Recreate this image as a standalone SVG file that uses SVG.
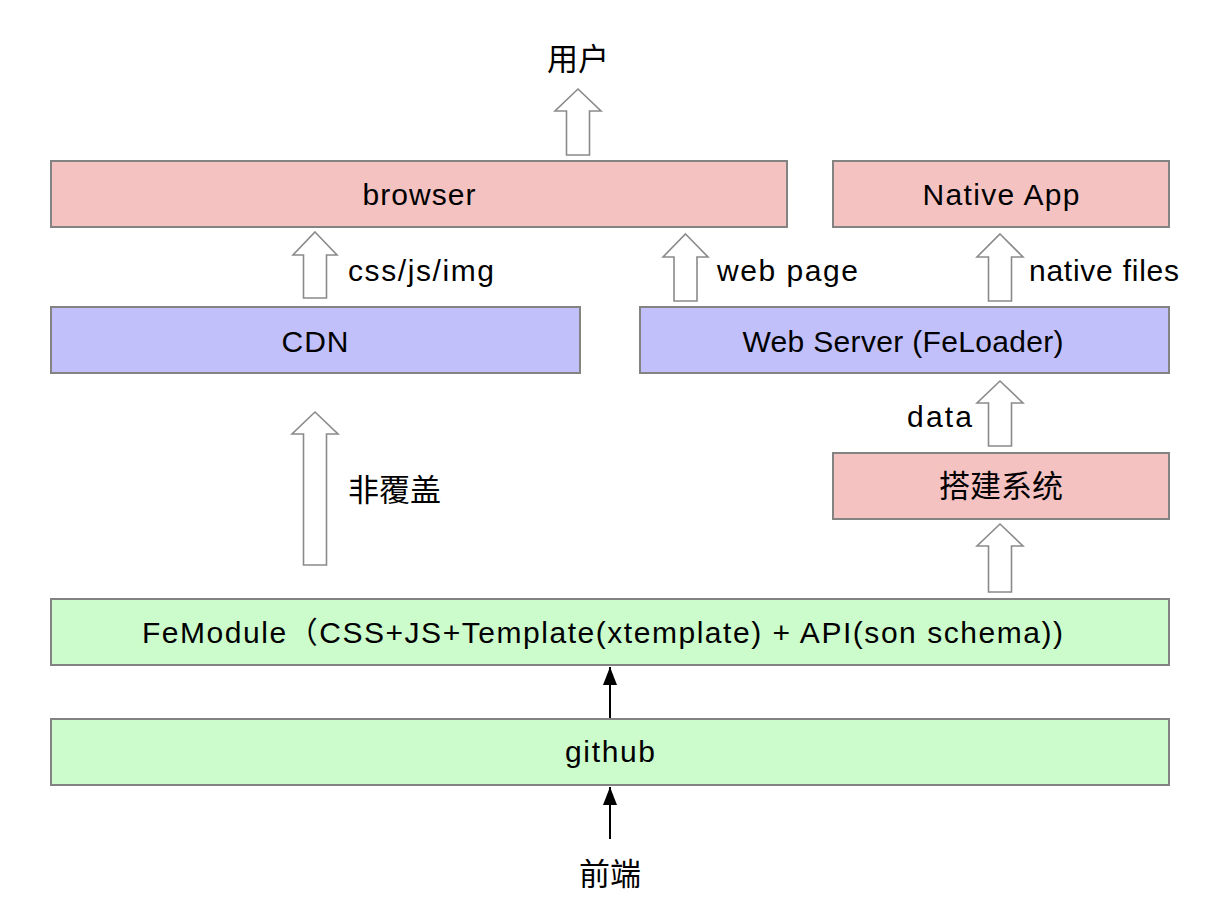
<svg xmlns="http://www.w3.org/2000/svg" width="1224" height="920" viewBox="0 0 1224 920">
<style>
.box{stroke:#838383;stroke-width:2}
.pink{fill:#f5c2c2}
.blue{fill:#c1c0fa}
.green{fill:#ccfccc}
.t{font-family:"Liberation Sans",Arial,"Noto Sans CJK SC",sans-serif;font-size:30px;fill:#000}
.c{font-family:"Noto Sans CJK SC","Liberation Sans",sans-serif;font-size:31px;fill:#000}
.m{text-anchor:middle}
.blk{fill:#fff;stroke:#8a8a8a;stroke-width:1.6;stroke-linejoin:miter}
.ln{stroke:#000;stroke-width:2;fill:none}
</style>
<defs>
<marker id="ah" viewBox="0 0 18 14" refX="18" refY="7" markerWidth="18" markerHeight="14" markerUnits="userSpaceOnUse" orient="auto">
<path d="M0,0 L18,7 L0,14 Z" fill="#000"/>
</marker>
</defs>
<rect width="1224" height="920" fill="#fff"/>

<g id="user"><text class="c m" x="578" y="70">用户</text></g>

<g id="browser"><rect class="box pink" x="51" y="161" width="736" height="66"/><text class="t m" x="419" y="205" textLength="113">browser</text></g>
<g id="native-app"><rect class="box pink" x="833" y="161" width="336" height="66"/><text class="t m" x="1001" y="205" textLength="157">Native App</text></g>
<g id="cdn"><rect class="box blue" x="51" y="307" width="529" height="66"/><text class="t m" x="315" y="352" textLength="67">CDN</text></g>
<g id="web-server"><rect class="box blue" x="640" y="307" width="529" height="66"/><text class="t m" x="903" y="352" textLength="321">Web Server (FeLoader)</text></g>
<g id="build-system"><rect class="box pink" x="833" y="453" width="336" height="66"/><text class="c m" x="1001" y="497">搭建系统</text></g>
<g id="femodule"><rect class="box green" x="51" y="599" width="1118" height="66"/><text class="t" x="142" y="643" font-size="30" textLength="921">FeModule（CSS+JS+Template(xtemplate) + API(son schema))</text></g>
<g id="github"><rect class="box green" x="51" y="719" width="1118" height="66"/><text class="t m" x="610" y="762" textLength="90">github</text></g>
<g id="frontend"><text class="c m" x="610" y="885">前端</text></g>

<g id="connectors">
<path class="blk" d="M578,89 L601,111 L589.5,111 L589.5,155 L566.5,155 L566.5,111 L555,111 Z"/>
<path class="blk" d="M315,232 L337,255 L326.5,255 L326.5,298 L303.5,298 L303.5,255 L293,255 Z"/>
<path class="blk" d="M685.5,234 L708,257 L697,257 L697,301 L674,301 L674,257 L663,257 Z"/>
<path class="blk" d="M1000,234 L1023,257 L1011.5,257 L1011.5,301 L988.5,301 L988.5,257 L977,257 Z"/>
<path class="blk" d="M315,412 L338,434 L326.5,434 L326.5,565 L303.5,565 L303.5,434 L292,434 Z"/>
<path class="blk" d="M1000,381 L1023,403 L1011.5,403 L1011.5,446 L988.5,446 L988.5,403 L977,403 Z"/>
<path class="blk" d="M1000,524 L1023,546 L1011.5,546 L1011.5,592 L988.5,592 L988.5,546 L977,546 Z"/>
<line class="ln" x1="610" y1="718" x2="610" y2="667" marker-end="url(#ah)"/>
<line class="ln" x1="610" y1="839" x2="610" y2="787" marker-end="url(#ah)"/>
<text class="t" x="348" y="281" textLength="146">css/js/img</text>
<text class="t" x="717" y="281" textLength="141">web page</text>
<text class="t" x="1029" y="281" textLength="150">native files</text>
<text class="t" x="907" y="427" textLength="65">data</text>
<text class="c" x="348" y="501">非覆盖</text>
</g>
</svg>
